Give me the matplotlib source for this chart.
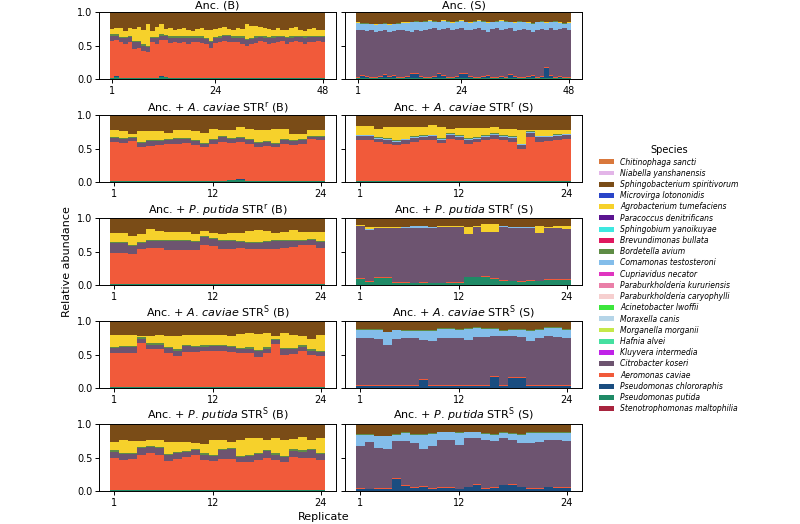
import matplotlib
matplotlib.use('Agg')
import matplotlib.pyplot as plt
import numpy as np
from matplotlib.patches import Patch

# Legend order (top to bottom); bars are stacked in the reverse order
species = [
    'Chitinophaga sancti', 'Niabella yanshanensis', 'Sphingobacterium spiritivorum',
    'Microvirga lotononidis', 'Agrobacterium tumefaciens', 'Paracoccus denitrificans',
    'Sphingobium yanoikuyae', 'Brevundimonas bullata', 'Bordetella avium',
    'Comamonas testosteroni', 'Cupriavidus necator', 'Paraburkholderia kururiensis',
    'Paraburkholderia caryophylli', 'Acinetobacter lwoffii', 'Moraxella canis',
    'Morganella morganii', 'Hafnia alvei', 'Kluyvera intermedia', 'Citrobacter koseri',
    'Aeromonas caviae', 'Pseudomonas chlororaphis', 'Pseudomonas putida',
    'Stenotrophomonas maltophilia',
]
colors = [
    '#d9783c', '#e3b5e8', '#7a4c17', '#2a45c8', '#f6d12b', '#5b1490',
    '#3ee8e0', '#e0185f', '#5e8c45', '#83bdea', '#e035c0', '#ea7fa8',
    '#f6cfcf', '#3ce63c', '#b5d5e8', '#c5e84a', '#45e0a0', '#c022e8',
    '#6d5470', '#f15a3a', '#1a4d80', '#1f8a66', '#a8243e',
]

# ---------------- Anc. (B) ----------------
anc_b_steno = [0.005] * 48
anc_b_putida = [0.01, 0.03, 0.01, 0.01, 0.01, 0.01, 0.01, 0.01, 0.01, 0.01, 0.01, 0.03,
                0.02, 0.01, 0.01, 0.01, 0.01, 0.01, 0.01, 0.01, 0.01, 0.01, 0.01, 0.01,
                0.01, 0.01, 0.01, 0.01, 0.01, 0.01, 0.01, 0.01, 0.01, 0.01, 0.01, 0.01,
                0.01, 0.01, 0.01, 0.01, 0.01, 0.01, 0.01, 0.01, 0.01, 0.01, 0.01, 0.01]
anc_b_chlor = [0.005] * 48
anc_b_aero = [0.55, 0.54, 0.53, 0.50, 0.53, 0.43, 0.44, 0.40, 0.39, 0.53, 0.50, 0.54,
              0.55, 0.52, 0.53, 0.52, 0.53, 0.51, 0.54, 0.53, 0.52, 0.51, 0.45, 0.52,
              0.54, 0.55, 0.54, 0.53, 0.54, 0.51, 0.48, 0.51, 0.52, 0.55, 0.53, 0.50,
              0.52, 0.54, 0.55, 0.51, 0.53, 0.55, 0.54, 0.51, 0.53, 0.54, 0.55, 0.53]
anc_b_citro = [0.08, 0.07, 0.06, 0.09, 0.08, 0.10, 0.09, 0.08, 0.07, 0.06, 0.09, 0.07,
               0.06, 0.08, 0.07, 0.08, 0.07, 0.09, 0.06, 0.07, 0.08, 0.07, 0.08, 0.07,
               0.06, 0.07, 0.08, 0.07, 0.06, 0.09, 0.08, 0.07, 0.08, 0.06, 0.07, 0.09,
               0.08, 0.07, 0.06, 0.08, 0.07, 0.06, 0.07, 0.09, 0.08, 0.07, 0.06, 0.08]
anc_b_bord = [0.02] * 48
anc_b_agro = [0.08, 0.09, 0.14, 0.09, 0.11, 0.18, 0.21, 0.22, 0.32, 0.09, 0.15, 0.15,
              0.09, 0.12, 0.09, 0.11, 0.12, 0.10, 0.08, 0.11, 0.12, 0.12, 0.16, 0.12,
              0.12, 0.12, 0.09, 0.10, 0.12, 0.11, 0.22, 0.17, 0.16, 0.13, 0.12, 0.12,
              0.10, 0.12, 0.08, 0.11, 0.12, 0.13, 0.09, 0.08, 0.10, 0.12, 0.09, 0.08]

# ---------------- Anc. (S) ----------------
anc_s_steno = [0.005] * 48
anc_s_putida = [0.005] * 48
anc_s_chlor = [0.01, 0.03, 0.02, 0.01, 0.01, 0.02, 0.05, 0.02, 0.04, 0.01, 0.01, 0.02,
               0.06, 0.07, 0.02, 0.01, 0.01, 0.02, 0.07, 0.04, 0.01, 0.01, 0.02, 0.06,
               0.07, 0.02, 0.01, 0.01, 0.02, 0.04, 0.01, 0.01, 0.02, 0.01, 0.05, 0.02,
               0.01, 0.01, 0.02, 0.03, 0.01, 0.02, 0.15, 0.04, 0.01, 0.02, 0.01, 0.01]
anc_s_aero = [0.015] * 48
anc_s_citro = [0.705, 0.675, 0.675, 0.695, 0.675, 0.675, 0.655, 0.655, 0.655, 0.705, 0.695, 0.675,
               0.625, 0.635, 0.675, 0.705, 0.715, 0.715, 0.645, 0.685, 0.725, 0.695, 0.705, 0.685,
               0.645, 0.685, 0.715, 0.725, 0.695, 0.635, 0.715, 0.725, 0.695, 0.715, 0.685, 0.675,
               0.705, 0.715, 0.685, 0.645, 0.705, 0.705, 0.555, 0.695, 0.705, 0.705, 0.725, 0.705]
anc_s_coma = [0.10, 0.10, 0.11, 0.09, 0.10, 0.10, 0.10, 0.11, 0.10, 0.09, 0.11, 0.12,
              0.14, 0.13, 0.13, 0.12, 0.12, 0.10, 0.11, 0.12, 0.10, 0.11, 0.11, 0.10,
              0.11, 0.11, 0.11, 0.11, 0.12, 0.14, 0.10, 0.10, 0.13, 0.11, 0.09, 0.12,
              0.12, 0.10, 0.11, 0.13, 0.11, 0.11, 0.11, 0.09, 0.12, 0.09, 0.07, 0.10]
anc_s_bord = [0.005] * 48
anc_s_agro = [0.005] * 48

# ---------------- Anc. + A. caviae STR^r (B) ----------------
acr_b_steno = [0.005] * 24
acr_b_putida = [0.01, 0.01, 0.01, 0.01, 0.01, 0.01, 0.01, 0.01, 0.01, 0.01, 0.01, 0.01,
                0.01, 0.02, 0.03, 0.01, 0.01, 0.01, 0.01, 0.01, 0.01, 0.01, 0.01, 0.01]
acr_b_chlor = [0.005] * 24
acr_b_aero = [0.58, 0.57, 0.595, 0.505, 0.52, 0.53, 0.555, 0.555, 0.565, 0.54, 0.505, 0.555,
              0.58, 0.555, 0.565, 0.555, 0.505, 0.515, 0.505, 0.555, 0.53, 0.555, 0.63, 0.615]
acr_b_citro = [0.06, 0.05, 0.04, 0.06, 0.07, 0.06, 0.05, 0.07, 0.06, 0.06, 0.05, 0.06,
               0.07, 0.06, 0.05, 0.05, 0.06, 0.07, 0.05, 0.06, 0.07, 0.06, 0.03, 0.04]
acr_b_bord = [0.015] * 24
acr_b_agro = [0.11, 0.11, 0.055, 0.165, 0.14, 0.14, 0.09, 0.125, 0.125, 0.13, 0.15, 0.15,
              0.09, 0.125, 0.15, 0.16, 0.175, 0.155, 0.21, 0.15, 0.09, 0.075, 0.09, 0.095]

# ---------------- Anc. + A. caviae STR^r (S) ----------------
acr_s_steno = [0.005] * 24
acr_s_putida = [0.01] * 24
acr_s_chlor = [0.005] * 24
acr_s_aero = [0.605, 0.605, 0.58, 0.555, 0.53, 0.555, 0.58, 0.605, 0.605, 0.565, 0.63, 0.605,
              0.555, 0.58, 0.605, 0.63, 0.605, 0.58, 0.48, 0.655, 0.58, 0.59, 0.605, 0.62]
acr_s_citro = [0.06, 0.06, 0.05, 0.06, 0.05, 0.05, 0.06, 0.05, 0.06, 0.05, 0.06, 0.05,
               0.06, 0.05, 0.05, 0.06, 0.05, 0.06, 0.05, 0.06, 0.07, 0.06, 0.07, 0.06]
acr_s_coma = [0.015] * 24
acr_s_bord = [0.01] * 24
acr_s_agro = [0.13, 0.13, 0.125, 0.165, 0.20, 0.175, 0.14, 0.125, 0.14, 0.165, 0.065, 0.115,
              0.155, 0.14, 0.115, 0.09, 0.10, 0.105, 0.20, 0.025, 0.09, 0.085, 0.065, 0.055]

# ---------------- Anc. + P. putida STR^r (B) ----------------
ppr_b_steno = [0.005] * 24
ppr_b_putida = [0.01] * 24
ppr_b_chlor = [0.005] * 24
ppr_b_aero = [0.465, 0.465, 0.45, 0.525, 0.54, 0.54, 0.505, 0.505, 0.505, 0.505, 0.575, 0.565,
              0.525, 0.515, 0.54, 0.515, 0.515, 0.525, 0.525, 0.54, 0.555, 0.575, 0.575, 0.54]
ppr_b_citro = [0.15, 0.15, 0.115, 0.09, 0.10, 0.10, 0.135, 0.135, 0.135, 0.12, 0.13, 0.11,
               0.115, 0.125, 0.085, 0.10, 0.10, 0.105, 0.115, 0.10, 0.085, 0.065, 0.08, 0.085]
ppr_b_bord = [0.015] * 24
ppr_b_agro = [0.135, 0.135, 0.135, 0.11, 0.16, 0.135, 0.12, 0.12, 0.12, 0.11, 0.07, 0.075,
              0.095, 0.11, 0.125, 0.16, 0.175, 0.145, 0.11, 0.12, 0.145, 0.12, 0.105, 0.135]

# ---------------- Anc. + P. putida STR^r (S) ----------------
ppr_s_steno = [0.005] * 24
ppr_s_putida = [0.09, 0.04, 0.10, 0.10, 0.03, 0.03, 0.02, 0.03, 0.02, 0.02, 0.03, 0.03,
                0.11, 0.11, 0.12, 0.09, 0.06, 0.05, 0.04, 0.06, 0.05, 0.07, 0.07, 0.07]
ppr_s_aero = [0.01] * 24
ppr_s_citro = [0.775, 0.775, 0.735, 0.735, 0.805, 0.805, 0.825, 0.815, 0.825, 0.835, 0.825, 0.825,
               0.645, 0.745, 0.665, 0.695, 0.795, 0.795, 0.805, 0.785, 0.715, 0.765, 0.765, 0.755]
ppr_s_coma = [0.0, 0.005, 0.005, 0.01, 0.01, 0.02, 0.02, 0.02, 0.01, 0.005, 0.005, 0.005,
              0.0, 0.005, 0.0, 0.0, 0.01, 0.01, 0.005, 0.005, 0.0, 0.01, 0.005, 0.005]
ppr_s_agro = [0.02, 0.03, 0.01, 0.01, 0.005, 0.005, 0.005, 0.005, 0.005, 0.005, 0.005, 0.005,
              0.105, 0.005, 0.11, 0.11, 0.005, 0.005, 0.005, 0.005, 0.105, 0.005, 0.03, 0.045]

# ---------------- Anc. + A. caviae STR^S (B) ----------------
acs_b_steno = [0.005] * 24
acs_b_putida = [0.01] * 24
acs_b_chlor = [0.005] * 24
acs_b_aero = [0.50, 0.50, 0.51, 0.66, 0.57, 0.56, 0.50, 0.46, 0.52, 0.52, 0.54, 0.54,
              0.53, 0.52, 0.50, 0.51, 0.45, 0.50, 0.64, 0.48, 0.49, 0.54, 0.47, 0.46]
acs_b_citro = [0.08, 0.09, 0.08, 0.06, 0.06, 0.07, 0.08, 0.08, 0.09, 0.07, 0.06, 0.07,
               0.08, 0.07, 0.06, 0.06, 0.08, 0.07, 0.06, 0.08, 0.07, 0.06, 0.07, 0.06]
acs_b_bord = [0.02] * 24
acs_b_agro = [0.18, 0.17, 0.16, 0.02, 0.11, 0.12, 0.16, 0.20, 0.15, 0.16, 0.16, 0.15,
              0.14, 0.15, 0.21, 0.22, 0.24, 0.21, 0.04, 0.22, 0.20, 0.14, 0.16, 0.23]

# ---------------- Anc. + A. caviae STR^S (S) ----------------
acs_s_steno = [0.005] * 24
acs_s_chlor = [0.02, 0.02, 0.02, 0.02, 0.02, 0.025, 0.03, 0.12, 0.03, 0.02, 0.02, 0.02,
               0.02, 0.025, 0.03, 0.16, 0.03, 0.15, 0.15, 0.03, 0.02, 0.02, 0.02, 0.03]
acs_s_aero = [0.015] * 24
acs_s_citro = [0.715, 0.715, 0.70, 0.60, 0.70, 0.71, 0.705, 0.58, 0.66, 0.715, 0.715, 0.715,
               0.68, 0.72, 0.715, 0.60, 0.73, 0.61, 0.60, 0.65, 0.715, 0.74, 0.725, 0.705]
acs_s_coma = [0.12, 0.12, 0.135, 0.195, 0.125, 0.105, 0.105, 0.14, 0.15, 0.13, 0.13, 0.12,
              0.165, 0.135, 0.12, 0.105, 0.08, 0.09, 0.10, 0.16, 0.12, 0.12, 0.135, 0.12]
acs_s_bord = [0.01] * 24

# ---------------- Anc. + P. putida STR^S (B) ----------------
pps_b_steno = [0.005] * 24
pps_b_putida = [0.01] * 24
pps_b_chlor = [0.005] * 24
pps_b_aero = [0.47, 0.445, 0.455, 0.52, 0.545, 0.52, 0.435, 0.455, 0.485, 0.52, 0.445, 0.43,
              0.455, 0.455, 0.42, 0.42, 0.445, 0.47, 0.445, 0.42, 0.495, 0.47, 0.47, 0.445]
pps_b_citro = [0.10, 0.09, 0.08, 0.10, 0.09, 0.10, 0.08, 0.09, 0.08, 0.07, 0.08, 0.07,
               0.14, 0.15, 0.07, 0.08, 0.09, 0.11, 0.08, 0.07, 0.09, 0.10, 0.12, 0.09]
pps_b_bord = [0.02] * 24
pps_b_agro = [0.12, 0.185, 0.175, 0.09, 0.085, 0.10, 0.175, 0.155, 0.135, 0.09, 0.135, 0.22,
              0.125, 0.095, 0.23, 0.26, 0.225, 0.14, 0.235, 0.24, 0.155, 0.20, 0.13, 0.225]

# ---------------- Anc. + P. putida STR^S (S) ----------------
pps_s_steno = [0.005] * 24
pps_s_chlor = [0.03, 0.02, 0.03, 0.03, 0.175, 0.07, 0.04, 0.06, 0.03, 0.04, 0.04, 0.02,
               0.05, 0.09, 0.03, 0.04, 0.08, 0.09, 0.05, 0.03, 0.03, 0.05, 0.04, 0.04]
pps_s_aero = [0.01] * 24
pps_s_citro = [0.635, 0.70, 0.60, 0.59, 0.555, 0.66, 0.665, 0.56, 0.625, 0.715, 0.715, 0.66,
               0.73, 0.69, 0.715, 0.69, 0.70, 0.655, 0.655, 0.675, 0.685, 0.695, 0.705, 0.69]
pps_s_coma = [0.165, 0.11, 0.175, 0.185, 0.10, 0.125, 0.125, 0.21, 0.19, 0.11, 0.11, 0.175,
              0.085, 0.085, 0.10, 0.10, 0.075, 0.10, 0.125, 0.15, 0.14, 0.11, 0.11, 0.125]
pps_s_bord = [0.01] * 24

ST, PP, PC = 'Stenotrophomonas maltophilia', 'Pseudomonas putida', 'Pseudomonas chlororaphis'
AC, CK, CT = 'Aeromonas caviae', 'Citrobacter koseri', 'Comamonas testosteroni'
BA, AT = 'Bordetella avium', 'Agrobacterium tumefaciens'
TOP = 'Sphingobacterium spiritivorum'  # takes the remaining share of each replicate

panels = [
    ('Anc. (B)', {ST: anc_b_steno, PP: anc_b_putida, PC: anc_b_chlor, AC: anc_b_aero,
                  CK: anc_b_citro, BA: anc_b_bord, AT: anc_b_agro}),
    ('Anc. (S)', {ST: anc_s_steno, PP: anc_s_putida, PC: anc_s_chlor, AC: anc_s_aero,
                  CK: anc_s_citro, CT: anc_s_coma, BA: anc_s_bord, AT: anc_s_agro}),
    (r'Anc. + $\it{A.\,caviae}$ STR$^{\rm r}$ (B)',
     {ST: acr_b_steno, PP: acr_b_putida, PC: acr_b_chlor, AC: acr_b_aero,
      CK: acr_b_citro, BA: acr_b_bord, AT: acr_b_agro}),
    (r'Anc. + $\it{A.\,caviae}$ STR$^{\rm r}$ (S)',
     {ST: acr_s_steno, PP: acr_s_putida, PC: acr_s_chlor, AC: acr_s_aero,
      CK: acr_s_citro, CT: acr_s_coma, BA: acr_s_bord, AT: acr_s_agro}),
    (r'Anc. + $\it{P.\,putida}$ STR$^{\rm r}$ (B)',
     {ST: ppr_b_steno, PP: ppr_b_putida, PC: ppr_b_chlor, AC: ppr_b_aero,
      CK: ppr_b_citro, BA: ppr_b_bord, AT: ppr_b_agro}),
    (r'Anc. + $\it{P.\,putida}$ STR$^{\rm r}$ (S)',
     {ST: ppr_s_steno, PP: ppr_s_putida, AC: ppr_s_aero, CK: ppr_s_citro,
      CT: ppr_s_coma, AT: ppr_s_agro}),
    (r'Anc. + $\it{A.\,caviae}$ STR$^{\rm S}$ (B)',
     {ST: acs_b_steno, PP: acs_b_putida, PC: acs_b_chlor, AC: acs_b_aero,
      CK: acs_b_citro, BA: acs_b_bord, AT: acs_b_agro}),
    (r'Anc. + $\it{A.\,caviae}$ STR$^{\rm S}$ (S)',
     {ST: acs_s_steno, PC: acs_s_chlor, AC: acs_s_aero, CK: acs_s_citro,
      CT: acs_s_coma, BA: acs_s_bord}),
    (r'Anc. + $\it{P.\,putida}$ STR$^{\rm S}$ (B)',
     {ST: pps_b_steno, PP: pps_b_putida, PC: pps_b_chlor, AC: pps_b_aero,
      CK: pps_b_citro, BA: pps_b_bord, AT: pps_b_agro}),
    (r'Anc. + $\it{P.\,putida}$ STR$^{\rm S}$ (S)',
     {ST: pps_s_steno, PC: pps_s_chlor, AC: pps_s_aero, CK: pps_s_citro,
      CT: pps_s_coma, BA: pps_s_bord}),
]

color_of = dict(zip(species, colors))

fig, axes = plt.subplots(5, 2, figsize=(8, 5.24), dpi=100, sharey=True)
fig.subplots_adjust(left=0.124, right=0.7275, bottom=0.063, top=0.9765,
                    wspace=0.038, hspace=0.546)

for ax, (title, data) in zip(axes.flat, panels):
    n = len(next(iter(data.values())))
    x = np.arange(1, n + 1)
    data = dict(data)
    data[TOP] = 1 - np.sum([np.array(v) for v in data.values()], axis=0)
    bottom = np.zeros(n)
    for sp in species[::-1]:
        if sp not in data:
            continue
        vals = np.array(data[sp], dtype=float)
        ax.bar(x, vals, width=1.0, bottom=bottom, color=color_of[sp], linewidth=0)
        bottom += vals
    ax.set_ylim(0, 1)
    ax.set_yticks([0, 0.5, 1.0])
    ax.set_yticklabels(['0.0', '0.5', '1.0'])
    ax.set_xticks([1, n // 2, n])
    ax.tick_params(labelsize=7, length=3, width=0.7, pad=2)
    ax.set_title(title, fontsize=8, pad=3)
    for s in ax.spines.values():
        s.set_linewidth(0.7)

for ax in axes[:, 1]:
    ax.tick_params(labelleft=False)

fig.text(0.084, 0.50, 'Relative abundance', rotation=90, ha='center', va='center', fontsize=8)
fig.text(0.404, 0.013, 'Replicate', ha='center', va='center', fontsize=8)

handles = [Patch(facecolor=c, edgecolor='none') for c in colors]
fig.legend(handles, species, loc='center left', bbox_to_anchor=(0.74, 0.467),
           frameon=False, title='Species', title_fontsize=7,
           prop={'style': 'italic', 'size': 5.5}, handlelength=2.0, handleheight=0.6,
           labelspacing=0.29, handletextpad=0.8)

fig.savefig('out.png', dpi=100)
